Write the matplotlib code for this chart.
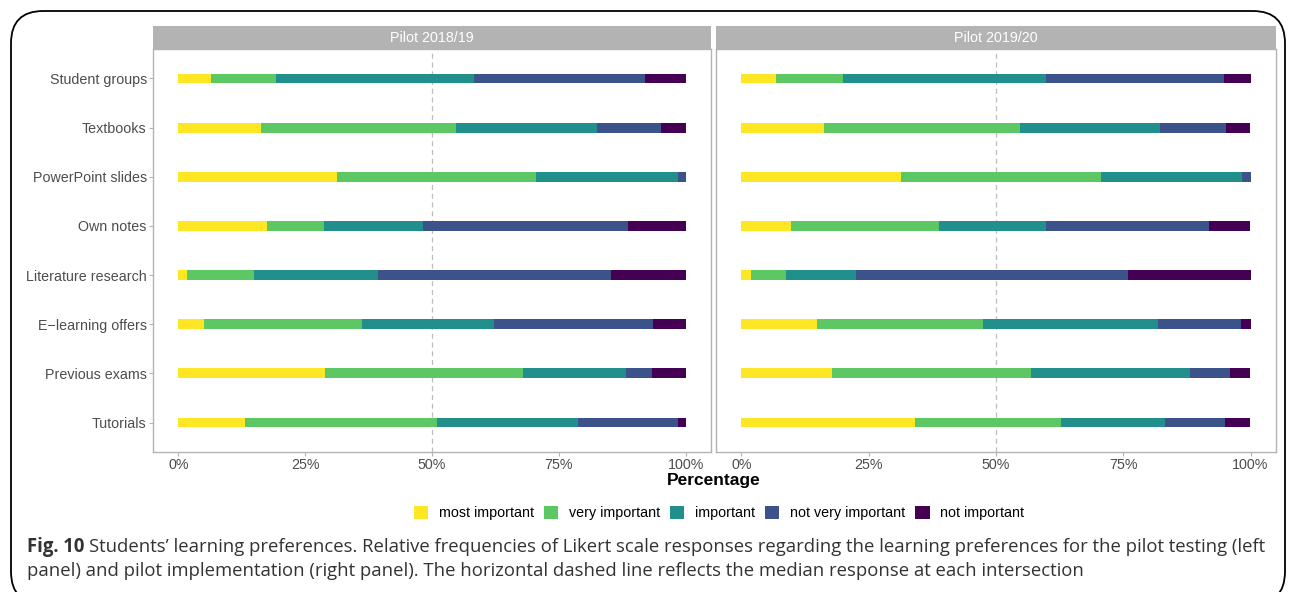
import matplotlib.pyplot as plt
import numpy as np
from matplotlib.patches import Patch, FancyBboxPatch

# learning material categories, top to bottom
items = ['Student groups', 'Textbooks', 'PowerPoint slides', 'Own notes',
         'Literature research', 'E\u2212learning offers', 'Previous exams', 'Tutorials']
levels = ['most important', 'very important', 'important', 'not very important', 'not important']
colors = ['#FDE725', '#5DC863', '#21908C', '#3B528B', '#440154']

# relative frequencies (%) per level, one row per item
pilot_1819 = [
    [6.5, 12.8, 38.9, 33.7, 8.1],
    [16.2, 38.6, 27.7, 12.7, 4.8],
    [31.2, 39.4, 27.8, 1.6, 0.0],
    [17.4, 11.4, 19.4, 40.4, 11.4],
    [1.8, 13.2, 24.4, 45.8, 14.8],
    [5.1, 31.1, 26.1, 31.2, 6.5],
    [28.9, 39.0, 20.3, 5.1, 6.7],
    [13.2, 37.7, 27.8, 19.7, 1.6],
]
pilot_1920 = [
    [6.7, 13.2, 40.0, 34.9, 5.2],
    [16.2, 38.5, 27.6, 12.8, 4.7],
    [31.3, 39.3, 27.8, 1.6, 0.0],
    [9.8, 29.1, 20.9, 32.0, 8.0],
    [1.8, 6.9, 13.8, 53.4, 24.1],
    [14.8, 32.6, 34.5, 16.3, 1.8],
    [17.7, 39.2, 31.3, 7.7, 3.9],
    [34.0, 28.7, 20.5, 11.8, 4.8],
]
panels = [('Pilot 2018/19', pilot_1819), ('Pilot 2019/20', pilot_1920)]
xticks = [0, 25, 50, 75, 100]
xticklabels = ['0%', '25%', '50%', '75%', '100%']

W, H = 1290, 592
fig = plt.figure(figsize=(W / 100, H / 100), dpi=100)
plt.rcParams['font.family'] = ['Liberation Sans', 'DejaVu Sans']


def box(x0, y0, x1, y1):
    # pixel box (top-left origin) -> figure fraction rect
    return [x0 / W, 1 - y1 / H, (x1 - x0) / W, (y1 - y0) / H]


# outer rounded frame
frame = FancyBboxPatch((11 / W, -0.02), (1285 - 11) / W, 1 - 11 / H + 0.02,
                       boxstyle='round,pad=0,rounding_size=0.025',
                       transform=fig.transFigure, fill=False, ec='black', lw=1.3,
                       mutation_aspect=W / H)
fig.patches.append(frame)

grey70 = '#b3b3b3'
grey30 = '#4d4d4d'
xs = [(153, 711), (716, 1276)]
ypos = np.arange(len(items))

for i, (title, data) in enumerate(panels):
    x0, x1 = xs[i]
    ax = fig.add_axes(box(x0, 49, x1, 452))
    vals = np.array(data)
    left = np.zeros(len(items))
    for j in range(len(levels)):
        ax.barh(ypos, vals[:, j], left=left, height=0.2, color=colors[j], lw=0)
        left += vals[:, j]
    ax.axvline(50, color='#bdbdbd', lw=0.9, ls=(0, (4, 3)), zorder=0)
    ax.set_xlim(-5, 105)
    ax.set_ylim(len(items) - 0.4, -0.6)
    ax.set_xticks(xticks)
    ax.set_xticklabels(xticklabels)
    ax.set_yticks(ypos)
    ax.tick_params(colors=grey70, labelcolor=grey30, labelsize=10.3, length=3, width=0.8)
    ax.tick_params(axis='x', pad=1.5)
    ax.tick_params(axis='y', pad=1.5)
    if i == 0:
        ax.set_yticklabels(items)
    else:
        ax.set_yticklabels([])
        ax.tick_params(axis='y', length=0)
    for s in ax.spines.values():
        s.set_color(grey70)
        s.set_linewidth(1.0)

    # facet strip
    sx = fig.add_axes(box(x0, 26, x1, 49))
    sx.set_facecolor(grey70)
    sx.set_xticks([])
    sx.set_yticks([])
    for s in sx.spines.values():
        s.set_visible(False)
    sx.text(0.5, 0.5, title, color='white', fontsize=10.3, ha='center', va='center',
            transform=sx.transAxes)

fig.text(714 / W, 1 - 481 / H, 'Percentage', fontsize=12.5, fontweight='bold',
         ha='center', va='center')

handles = [Patch(facecolor=c, edgecolor='none', label=l) for c, l in zip(colors, levels)]
fig.legend(handles=handles, loc='center', bbox_to_anchor=(719 / W, 1 - 513 / H), ncol=5,
           frameon=False, fontsize=10.3, handlelength=1.0, handleheight=1.0,
           handletextpad=0.75, columnspacing=0.7)

# caption
cap_font = ['Open Sans', 'DejaVu Sans']
cap_size = 13.35
cap_color = '#333333'
r = fig.canvas.get_renderer()
t = fig.text(27 / W, 1 - 547 / H, 'Fig. 10', fontsize=cap_size, fontweight='bold',
             family=cap_font, color=cap_color, va='center')
bb = t.get_window_extent(renderer=r)
fig.text(bb.x1 / W + 5 / W, 1 - 547 / H,
         "Students\u2019 learning preferences. Relative frequencies of Likert scale responses "
         "regarding the learning preferences for the pilot testing (left",
         fontsize=cap_size, family=cap_font, color=cap_color, va='center')
fig.text(27 / W, 1 - 571 / H,
         "panel) and pilot implementation (right panel). The horizontal dashed line reflects "
         "the median response at each intersection",
         fontsize=cap_size, family=cap_font, color=cap_color, va='center')

fig.savefig('out.png', dpi=100)
